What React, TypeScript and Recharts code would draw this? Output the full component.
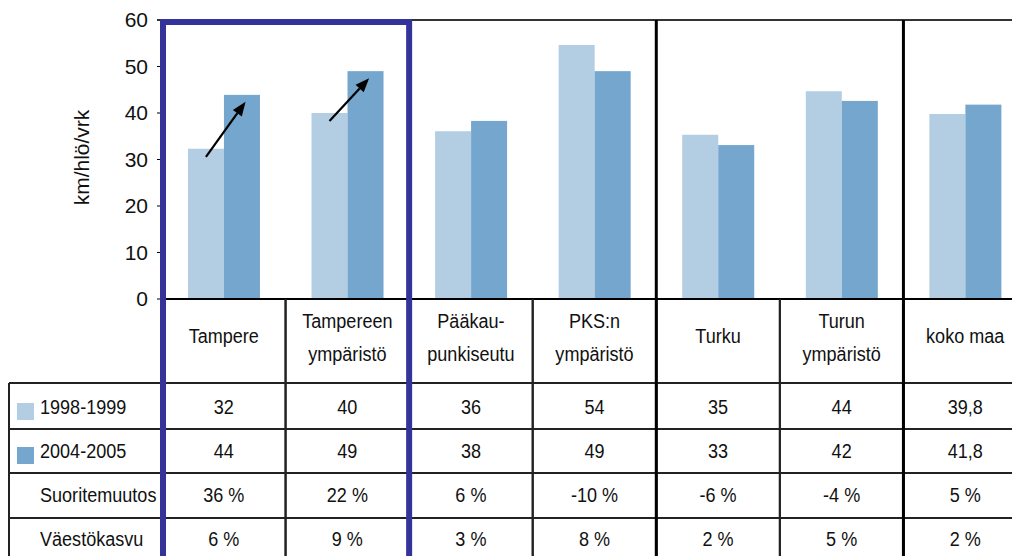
import { BarChart, Bar, XAxis, YAxis, Label } from "recharts";

const categories = [
  "Tampere",
  "Tampereen ympäristö",
  "Pääkaupunkiseutu",
  "PKS:n ympäristö",
  "Turku",
  "Turun ympäristö",
  "koko maa",
];
const headerLines = [
  ["Tampere"],
  ["Tampereen", "ympäristö"],
  ["Pääkau-", "punkiseutu"],
  ["PKS:n", "ympäristö"],
  ["Turku"],
  ["Turun", "ympäristö"],
  ["koko maa"],
];
// bar heights
const series1998 = [32.3, 40.0, 36.1, 54.6, 35.3, 44.7, 39.8];
const series2004 = [43.9, 49.0, 38.3, 49.0, 33.1, 42.6, 41.8];
// table rows
const labels1998 = ["32", "40", "36", "54", "35", "44", "39,8"];
const labels2004 = ["44", "49", "38", "49", "33", "42", "41,8"];
const suoritemuutos = ["36 %", "22 %", "6 %", "-10 %", "-6 %", "-4 %", "5 %"];
const vaestokasvu = ["6 %", "9 %", "3 %", "8 %", "2 %", "5 %", "2 %"];
const yTicks = [0, 10, 20, 30, 40, 50, 60];

const highlighted = ["Tampere", "Tampereen ympäristö"];
const groupStarts = ["Pääkaupunkiseutu", "Turku", "koko maa"];

const LIGHT = "#B3CDE3";
const DARK = "#74A6CE";
const BLUE = "#333399";

const W = 1040;
const H = 556;
const TOP = 20;
const PLOT_LEFT = 162;
const PLOT_RIGHT = 1027;
const AXIS_H = 257;
const AXIS_Y = H - AXIS_H;
const BAND = (PLOT_RIGHT - PLOT_LEFT) / categories.length;

const font = "'Liberation Sans', Arial, sans-serif";
const NARROW = 0.86;

const rowLines = [84, 130, 174, 219];
const rowBase = [115, 159, 203, 247];

const data = categories.map((name, i) => ({
  name,
  v1: series1998[i],
  v2: series2004[i],
}));

const rows = [
  { label: "1998-1999", values: labels1998, swatch: LIGHT },
  { label: "2004-2005", values: labels2004, swatch: DARK },
  { label: "Suoritemuutos", values: suoritemuutos },
  { label: "Väestökasvu", values: vaestokasvu },
];

// condensed text, like the narrow font of the original
function NText({ x, y, anchor = "middle", children }: any) {
  return (
    <text
      transform={`translate(${x} ${y}) scale(${NARROW} 1)`}
      textAnchor={anchor}
      fontFamily={font}
      fontSize={21}
      fill="#111"
    >
      {children}
    </text>
  );
}

function TableColumn(props: any) {
  const { x, payload, index } = props;
  const name = payload.value;
  const left = x - BAND / 2;
  const right = x + BAND / 2;
  const lines = headerLines[index];

  return (
    <g>
      {index === 0 && (
        <g>
          <line x1={PLOT_LEFT - 5} x2={W} y1={TOP} y2={TOP} stroke="#333" strokeWidth={2} />
          <line x1={9} x2={9} y1={AXIS_Y + rowLines[0]} y2={H} stroke="#222" strokeWidth={2} />
          {rowLines.map((r) => (
            <line key={r} x1={9} x2={PLOT_LEFT} y1={AXIS_Y + r} y2={AXIS_Y + r} stroke="#222" strokeWidth={2} />
          ))}
          {rows.map((row, i) => (
            <g key={row.label}>
              {row.swatch && (
                <rect x={17} y={AXIS_Y + rowBase[i] - 11} width={17} height={17} fill={row.swatch} />
              )}
              <NText x={40} y={AXIS_Y + rowBase[i]} anchor="start">
                {row.label}
              </NText>
            </g>
          ))}
        </g>
      )}
      <line x1={left} x2={left} y1={AXIS_Y} y2={H} stroke="#222" strokeWidth={2} />
      <line x1={right} x2={right} y1={AXIS_Y} y2={H} stroke="#222" strokeWidth={2} />
      {rowLines.map((r) => (
        <line key={r} x1={left} x2={right} y1={AXIS_Y + r} y2={AXIS_Y + r} stroke="#222" strokeWidth={2} />
      ))}
      {groupStarts.includes(name) && (
        <line x1={left} x2={left} y1={TOP} y2={H} stroke="#000" strokeWidth={3} />
      )}
      {lines.length === 1 ? (
        <NText x={x} y={AXIS_Y + 44}>{lines[0]}</NText>
      ) : (
        <g>
          <NText x={x} y={AXIS_Y + 29}>{lines[0]}</NText>
          <NText x={x} y={AXIS_Y + 62}>{lines[1]}</NText>
        </g>
      )}
      {rows.map((row, i) => (
        <NText key={row.label} x={x} y={AXIS_Y + rowBase[i]}>
          {row.values[index]}
        </NText>
      ))}
      {index === categories.length - 1 && (
        <path
          d={`M${PLOT_LEFT + 1},${H + 10} V${TOP + 2} H${PLOT_LEFT + highlighted.length * BAND} V${H + 10}`}
          fill="none"
          stroke={BLUE}
          strokeWidth={6}
        />
      )}
    </g>
  );
}

function DarkBar(props: any) {
  const { x, y, width, height, fill, payload } = props;
  const rect = <rect x={x} y={y} width={width} height={height} fill={fill} />;
  if (!highlighted.includes(payload.name)) return rect;
  const base = y + height;
  const lightTop = base - (height * payload.v1) / payload.v2;
  const x1 = x - width * 0.5;
  const y1 = lightTop + 8;
  const x2 = x + width * 0.6;
  const y2 = y + 7;
  const ang = Math.atan2(y2 - y1, x2 - x1);
  const len = 14;
  const half = 5.5;
  const bx = x2 - len * Math.cos(ang);
  const by = y2 - len * Math.sin(ang);
  const px = -Math.sin(ang) * half;
  const py = Math.cos(ang) * half;
  return (
    <g>
      {rect}
      <line x1={x1} y1={y1} x2={bx} y2={by} stroke="#000" strokeWidth={2.2} />
      <polygon points={`${x2},${y2} ${bx + px},${by + py} ${bx - px},${by - py}`} fill="#000" />
    </g>
  );
}

function YTitle(props: any) {
  const vb = props.viewBox;
  const cx = 81;
  const cy = vb.y + vb.height / 2 - 2;
  return (
    <text
      x={cx}
      y={cy}
      transform={`rotate(-90 ${cx} ${cy})`}
      textAnchor="middle"
      dominantBaseline="central"
      fontFamily={font}
      fontSize={21}
      fill="#111"
    >
      km/hlö/vrk
    </text>
  );
}

export default function App() {
  return (
    <div
      style={{
        position: "absolute",
        left: 0,
        top: 0,
        width: 1012,
        height: H,
        overflow: "hidden",
        background: "#fff",
      }}
    >
      <BarChart
        width={W}
        height={H}
        data={data}
        margin={{ top: TOP, right: W - PLOT_RIGHT, left: 0, bottom: 0 }}
        barCategoryGap="21%"
        barGap={0}
      >
        <XAxis
          dataKey="name"
          height={AXIS_H}
          interval={0}
          tickSize={0}
          tickMargin={0}
          tickLine={false}
          axisLine={{ stroke: "#000", strokeWidth: 2 }}
          tick={TableColumn}
        />
        <YAxis
          width={PLOT_LEFT}
          domain={[0, 60]}
          ticks={yTicks}
          tickSize={5}
          tickMargin={9}
          axisLine={{ stroke: "#000" }}
          tickLine={{ stroke: "#000" }}
          tick={{ fontFamily: font, fontSize: 21, fill: "#111" }}
        >
          <Label content={YTitle} />
        </YAxis>
        <Bar dataKey="v1" fill={LIGHT} isAnimationActive={false} />
        <Bar dataKey="v2" fill={DARK} isAnimationActive={false} shape={DarkBar} />
      </BarChart>
    </div>
  );
}
